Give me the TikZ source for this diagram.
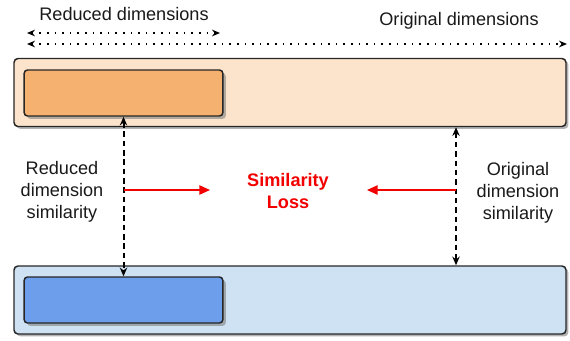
\documentclass[tikz,border=0pt]{standalone}
\usepackage{fontspec}
\setmainfont{Liberation Sans}
\usetikzlibrary{arrows.meta,shadows}
\definecolor{peach}{HTML}{FCE4CC}
\definecolor{orangebox}{HTML}{F5B16F}
\definecolor{paleblue}{HTML}{CFE2F3}
\definecolor{bluebox}{HTML}{6D9EEB}
\definecolor{lossred}{HTML}{F20000}
\begin{document}
\begin{tikzpicture} %similarity loss
		[x=0.75pt,y=-0.75pt,
		 outerbox/.style={draw=black!85,line width=1.1pt,rounded corners=3pt,minimum width=414pt,minimum height=51pt,drop shadow={shadow xshift=1.8pt,shadow yshift=-1.8pt,opacity=0.6}},
		 innerbox/.style={draw=black!85,line width=1.1pt,rounded corners=2.5pt,minimum width=149pt,minimum height=34.5pt,drop shadow={shadow xshift=2.2pt,shadow yshift=-2.2pt,opacity=0.6}},
		 span/.style={line width=1.1pt,dash pattern=on 1.1pt off 4.6pt,{Stealth[length=6pt,width=5pt]}-{Stealth[length=6pt,width=5pt]}},
		 link/.style={line width=1.5pt,dash pattern=on 4.2pt off 2.8pt,{Stealth[length=6.5pt,width=5.5pt]}-{Stealth[length=6.5pt,width=5.5pt]}},
		 lossarrow/.style={lossred,line width=1.1pt,-{Triangle[length=8pt,width=7pt]}},
		 caption/.style={font=\fontsize{13.6pt}{16.5pt}\selectfont,text=black!90,align=center}]
	\useasboundingbox (0,0) rectangle (570,340);

	%draw the two rows of boxes
	\node[outerbox,fill=peach]    (origtop) at (290,92.5) {};
	\node[innerbox,fill=orangebox] (redtop) at (123.5,93) {};
	\node[outerbox,fill=paleblue] (origbot) at (290,300) {};
	\node[innerbox,fill=bluebox]  (redbot) at (123.5,300) {};

	%dimension spans above the top row
	\node[caption] (redlabel)  at (124,14) {Reduced dimensions};
	\node[caption] (origlabel) at (459,21) {Original dimensions};
	\coordinate (redstart) at (27,33);
	\coordinate (redend) at (220,33);
	\coordinate (origstart) at (27,44);
	\coordinate (origend) at (567,44);
	\draw[span] (redstart) -- (redend);
	\draw[span] (origstart) -- (origend);

	%similarity links between the rows
	\coordinate (origx) at (456,0);
	\draw[link] (redtop.south) -- (redbot.north);
	\draw[link] (origtop.south -| origx) -- (origbot.north -| origx);

	\node[caption] (redsim)  at (62,192) {Reduced\\dimension\\similarity};
	\node[caption] (origsim) at (518,193) {Original\\dimension\\similarity};
	\node[caption,font=\fontsize{13.6pt}{16.5pt}\selectfont\bfseries,text=lossred] (loss) at (288,191) {Similarity\\Loss};

	%both similarities feed the loss
	\coordinate (redtap) at (124,190);
	\coordinate (redhead) at (210,190);
	\coordinate (origtap) at (456,190);
	\coordinate (orighead) at (367,190);
	\draw[lossarrow] (redtap) -- (redhead);
	\draw[lossarrow] (origtap) -- (orighead);
\end{tikzpicture}
\end{document}
